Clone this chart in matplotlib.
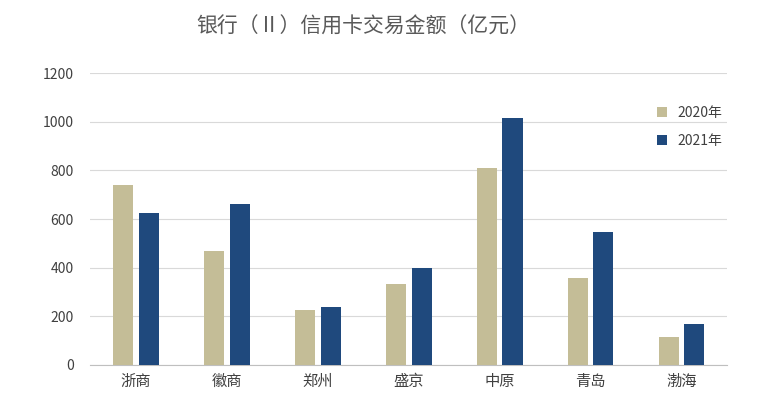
import matplotlib.pyplot as plt
import numpy as np
from matplotlib import rcParams

rcParams['font.family'] = 'Noto Sans CJK SC'

banks = ['浙商', '徽商', '郑州', '盛京', '中原', '青岛', '渤海']
vals_2020 = [740, 470, 226, 333, 810, 358, 115]
vals_2021 = [625, 662, 238, 399, 1015, 547, 168]

fig = plt.figure(figsize=(7.72, 4.11), dpi=100)
ax = fig.add_axes([0.117, 0.112, 0.825, 0.71])

x = np.arange(len(banks))
w = 0.22
ax.bar(x - 0.14, vals_2020, w, color='#C4BD97', label='2020年', zorder=3)
ax.bar(x + 0.14, vals_2021, w, color='#1F497D', label='2021年', zorder=3)

ax.set_ylim(0, 1200)
ax.set_yticks(range(0, 1201, 200))
ax.set_xlim(-0.5, len(banks) - 0.5)
ax.set_xticks(x)
ax.set_xticklabels(banks, fontsize=11, color='#404040')
ax.tick_params(axis='y', labelsize=10, colors='#404040', length=0, pad=12)
ax.tick_params(axis='x', length=0, pad=6)
ax.grid(axis='y', color='#D9D9D9', linewidth=0.8, zorder=0)
for s in ['top', 'right', 'left']:
    ax.spines[s].set_visible(False)
ax.spines['bottom'].set_color('#BFBFBF')

fig.text(0.47, 0.935, '银行（Ⅱ）信用卡交易金额（亿元）', ha='center', va='center',
         fontsize=15, color='#595959')
ax.legend(loc='upper left', bbox_to_anchor=(0.87, 0.93), frameon=False,
          fontsize=10, handlelength=0.7, handleheight=0.7, labelspacing=1.0,
          labelcolor='#404040')

fig.savefig('out.png', dpi=100)
